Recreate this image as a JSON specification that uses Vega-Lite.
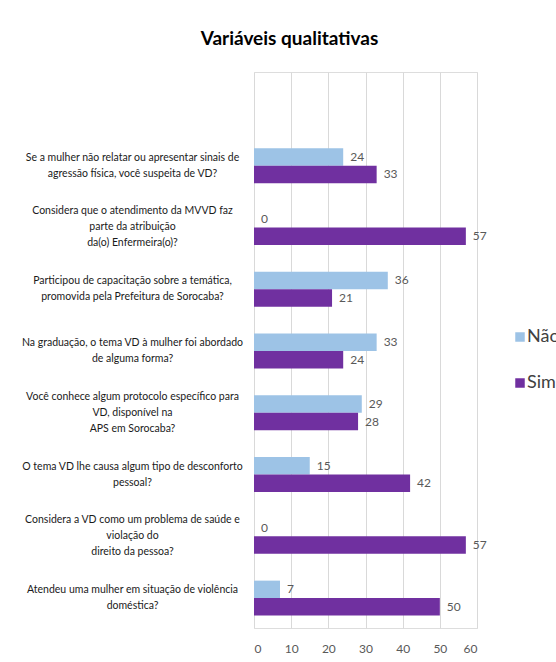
{
  "$schema": "https://vega.github.io/schema/vega-lite/v6.json",
  "autosize": {"type": "none"},
  "padding": {"left": 254, "top": 72, "right": 79, "bottom": 34},
  "width": 223,
  "height": 556,
  "background": "white",
  "title": {
    "text": "Variáveis qualitativas",
    "anchor": "middle",
    "frame": "group",
    "dx": -76,
    "offset": 8,
    "baseline": "alphabetic",
    "font": "Lato",
    "fontSize": 19,
    "fontWeight": "bold",
    "color": "#000000"
  },
  "data": {
    "values": [
      {"pergunta": "Se a mulher não relatar ou apresentar sinais de|agressão física, você suspeita de VD?", "resposta": "Não", "n": 24},
      {"pergunta": "Se a mulher não relatar ou apresentar sinais de|agressão física, você suspeita de VD?", "resposta": "Sim", "n": 33},
      {"pergunta": "Considera que o atendimento da MVVD faz|parte da atribuição|da(o) Enfermeira(o)?", "resposta": "Não", "n": 0},
      {"pergunta": "Considera que o atendimento da MVVD faz|parte da atribuição|da(o) Enfermeira(o)?", "resposta": "Sim", "n": 57},
      {"pergunta": "Participou de capacitação sobre a temática,|promovida pela Prefeitura de Sorocaba?", "resposta": "Não", "n": 36},
      {"pergunta": "Participou de capacitação sobre a temática,|promovida pela Prefeitura de Sorocaba?", "resposta": "Sim", "n": 21},
      {"pergunta": "Na graduação, o tema VD à mulher foi abordado|de alguma forma?", "resposta": "Não", "n": 33},
      {"pergunta": "Na graduação, o tema VD à mulher foi abordado|de alguma forma?", "resposta": "Sim", "n": 24},
      {"pergunta": "Você conhece algum protocolo específico para|VD, disponível na|APS em Sorocaba?", "resposta": "Não", "n": 29},
      {"pergunta": "Você conhece algum protocolo específico para|VD, disponível na|APS em Sorocaba?", "resposta": "Sim", "n": 28},
      {"pergunta": "O tema VD lhe causa algum tipo de desconforto|pessoal?", "resposta": "Não", "n": 15},
      {"pergunta": "O tema VD lhe causa algum tipo de desconforto|pessoal?", "resposta": "Sim", "n": 42},
      {"pergunta": "Considera a VD como um problema de saúde e|violação do|direito da pessoa?", "resposta": "Não", "n": 0},
      {"pergunta": "Considera a VD como um problema de saúde e|violação do|direito da pessoa?", "resposta": "Sim", "n": 57},
      {"pergunta": "Atendeu uma mulher em situação de violência|doméstica?", "resposta": "Não", "n": 7},
      {"pergunta": "Atendeu uma mulher em situação de violência|doméstica?", "resposta": "Sim", "n": 50}
    ]
  },
  "encoding": {
    "y": {
      "field": "pergunta",
      "type": "nominal",
      "sort": null,
      "title": null,
      "scale": {"paddingInner": 0.434, "paddingOuter": 0.717, "align": 0.86},
      "axis": {
        "labelExpr": "split(datum.label, '|')",
        "labelAlign": "center",
        "labelBaseline": "middle",
        "labelPadding": 122,
        "labelOffset": {
          "condition": {"test": "length(split(datum.value, '|')) == 3", "value": -16},
          "value": -8
        },
        "labelLimit": 0,
        "labelFont": "Lato",
        "labelFontSize": 10.5,
        "labelLineHeight": 16,
        "labelColor": "#1a1a1a",
        "ticks": false,
        "domain": false,
        "grid": false
      }
    },
    "yOffset": {
      "field": "resposta",
      "type": "nominal",
      "scale": {"domain": ["Não", "Sim"], "paddingInner": 0, "paddingOuter": 0}
    },
    "x": {
      "field": "n",
      "type": "quantitative",
      "title": null,
      "scale": {"domain": [0, 60], "nice": false},
      "axis": {
        "values": [0, 10, 20, 30, 40, 50, 60],
        "grid": true,
        "gridColor": "#d9d9d9",
        "gridWidth": 1,
        "domain": false,
        "ticks": false,
        "labelPadding": 15,
        "labelFont": "Lato",
        "labelFontSize": 12,
        "labelColor": "#595959"
      }
    }
  },
  "layer": [
    {
      "mark": {"type": "bar"},
      "encoding": {
        "color": {
          "field": "resposta",
          "type": "nominal",
          "scale": {"domain": ["Não", "Sim"], "range": ["#9DC3E6", "#7030A0"]},
          "legend": {
            "title": null,
            "orient": "none",
            "legendX": 257,
            "legendY": 256,
            "symbolType": "square",
            "symbolSize": 90,
            "symbolStrokeWidth": 0,
            "symbolOpacity": 1,
            "labelFont": "Lato",
            "labelFontSize": 18,
            "labelColor": "#404040",
            "labelOffset": -2,
            "rowPadding": 28
          }
        }
      }
    },
    {
      "mark": {
        "type": "text",
        "align": "left",
        "baseline": "middle",
        "dx": 7,
        "font": "Lato",
        "fontSize": 12,
        "color": "#595959"
      },
      "encoding": {
        "text": {"field": "n", "type": "quantitative"}
      }
    }
  ]
}
